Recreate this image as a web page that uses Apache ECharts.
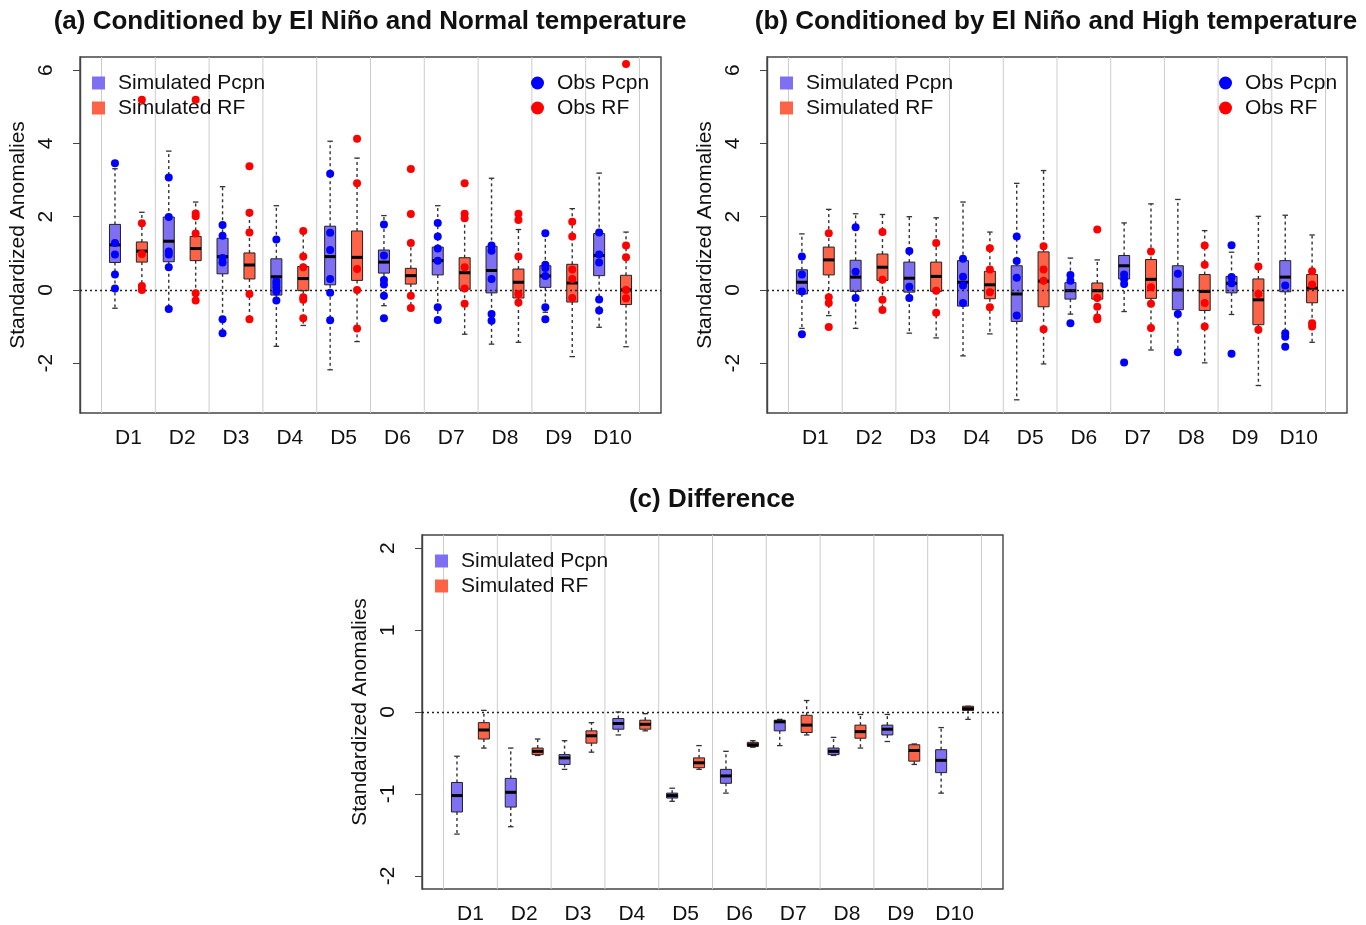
<!DOCTYPE html>
<html>
<head>
<meta charset="utf-8">
<title>Standardized Anomalies</title>
<script src="https://cdn.jsdelivr.net/npm/echarts@6/dist/echarts.min.js"></script>
<style>
  html, body { margin: 0; padding: 0; background: #fff; }
  #chart { width: 1366px; height: 925px; }
</style>
</head>
<body>
<div id="chart"></div>
<script>
// lead days
var days = ['D1', 'D2', 'D3', 'D4', 'D5', 'D6', 'D7', 'D8', 'D9', 'D10'];

// box stats per day: [lower whisker, Q1, median, Q3, upper whisker]
// (a) El Nino + normal temperature
var aPcpnStats = [
    [-0.50, 0.75, 1.23, 1.79, 3.31],
    [-0.52, 0.77, 1.33, 1.99, 3.79],
    [-1.15, 0.44, 0.91, 1.41, 2.82],
    [-1.54, -0.14, 0.36, 0.85, 2.30],
    [-2.18, 0.14, 0.91, 1.74, 4.06],
    [-0.43, 0.46, 0.76, 1.09, 2.03],
    [-0.82, 0.41, 0.80, 1.17, 2.30],
    [-1.48, -0.08, 0.53, 1.19, 3.05],
    [-0.61, 0.07, 0.38, 0.66, 1.55],
    [-1.02, 0.39, 0.94, 1.54, 3.19]
];
var aRfStats = [
    [0.00, 0.76, 1.06, 1.31, 2.12],
    [-0.29, 0.80, 1.13, 1.46, 2.40],
    [-0.80, 0.30, 0.68, 1.01, 2.11],
    [-0.97, -0.02, 0.31, 0.64, 1.61],
    [-1.41, 0.26, 0.89, 1.61, 3.60],
    [-0.49, 0.16, 0.39, 0.59, 1.28],
    [-1.21, 0.02, 0.47, 0.88, 2.08],
    [-1.43, -0.22, 0.21, 0.57, 1.65],
    [-1.82, -0.33, 0.19, 0.70, 2.22],
    [-1.55, -0.40, 0.00, 0.40, 1.58]
];
var aPcpnObs = [
    [3.46, 1.28, 0.97, 0.42, 0.04],
    [3.07, 1.99, 1.05, 0.97, 0.62, -0.52],
    [1.77, 1.48, 0.87, 0.75, -0.80, -1.18],
    [1.38, 0.24, 0.16, 0.07, -0.04, -0.29],
    [3.17, 1.56, 1.09, 0.30, -0.08, -0.83],
    [1.79, 0.94, 0.27, 0.15, -0.16, -0.77],
    [1.83, 1.46, 1.13, 0.80, -0.47, -0.82],
    [1.21, 1.07, 0.30, -0.66, -0.84],
    [1.55, 0.69, 0.60, 0.38, -0.47, -0.80],
    [1.57, 0.97, 0.75, -0.26, -0.56]
];
var aRfObs = [
    [5.19, 1.82, 0.98, 0.11, 0.00],
    [5.19, 2.09, 2.01, 1.54, -0.09, -0.29],
    [3.38, 2.11, 1.57, -0.11, -0.80],
    [1.61, 0.91, 0.62, -0.20, -0.27, -0.77],
    [4.13, 2.91, 0.57, 0.00, -1.05],
    [3.30, 2.07, 1.28, -0.16, -0.49],
    [2.91, 2.08, 1.96, 0.62, 0.04, -0.38],
    [2.08, 1.91, 0.91, -0.11, -0.34],
    [1.86, 1.46, 0.56, 0.30, -0.22],
    [6.17, 1.21, 0.89, 0.00, -0.23]
];

// (b) El Nino + high temperature
var bPcpnStats = [
    [-1.05, -0.11, 0.21, 0.55, 1.53],
    [-1.05, -0.04, 0.35, 0.81, 2.08],
    [-1.18, -0.06, 0.32, 0.76, 2.00],
    [-1.80, -0.44, 0.21, 0.80, 2.40],
    [-3.00, -0.86, -0.11, 0.66, 2.91],
    [-0.66, -0.25, -0.02, 0.20, 0.87],
    [-0.59, 0.30, 0.66, 0.94, 1.83],
    [-1.65, -0.54, 0.00, 0.66, 2.47],
    [-0.67, -0.08, 0.18, 0.37, 1.03],
    [-1.15, -0.05, 0.35, 0.80, 2.04]
];
var bRfStats = [
    [-0.70, 0.41, 0.82, 1.17, 2.20],
    [-0.55, 0.26, 0.62, 0.98, 2.06],
    [-1.31, -0.04, 0.37, 0.76, 1.97],
    [-1.20, -0.24, 0.14, 0.51, 1.58],
    [-2.02, -0.46, 0.24, 1.04, 3.26],
    [-0.84, -0.25, -0.02, 0.19, 0.82],
    [-1.64, -0.23, 0.29, 0.83, 2.35],
    [-1.99, -0.56, -0.04, 0.42, 1.62],
    [-2.61, -0.95, -0.27, 0.30, 2.01],
    [-1.43, -0.35, 0.05, 0.42, 1.50]
];
var bPcpnObs = [
    [0.91, 0.42, -0.04, -1.21],
    [1.71, 0.50, -0.22],
    [1.06, 0.09, -0.22],
    [0.85, 0.36, 0.12, -0.36],
    [1.46, 0.79, 0.33, -0.70],
    [0.41, 0.25, -0.91],
    [0.42, 0.30, 0.16, -1.98],
    [0.44, -0.66, -1.70],
    [1.22, 0.35, 0.18, -1.74],
    [0.12, -1.18, -1.28, -1.55]
];
var bRfObs = [
    [1.55, -0.20, -0.36, -1.01],
    [1.58, 0.28, -0.27, -0.55],
    [1.28, -0.02, -0.62],
    [1.14, 0.56, -0.06, -0.47],
    [1.19, 0.56, 0.25, -1.07],
    [1.65, -0.22, -0.46, -0.75, -0.80],
    [1.05, 0.07, -0.38, -1.04],
    [1.21, 0.69, -0.36, -1.00],
    [0.64, -0.11, -1.09],
    [0.51, 0.15, -0.91, -1.00]
];

// (c) difference
var cPcpnStats = [
    [-1.49, -1.22, -1.02, -0.86, -0.54],
    [-1.40, -1.16, -0.98, -0.81, -0.44],
    [-0.70, -0.64, -0.56, -0.52, -0.35],
    [-0.28, -0.21, -0.14, -0.08, 0.00],
    [-1.09, -1.05, -1.02, -0.99, -0.93],
    [-0.99, -0.87, -0.78, -0.70, -0.48],
    [-0.41, -0.23, -0.12, -0.10, -0.09],
    [-0.53, -0.52, -0.48, -0.44, -0.31],
    [-0.36, -0.28, -0.21, -0.16, -0.03],
    [-0.99, -0.74, -0.59, -0.46, -0.19]
];
var cRfStats = [
    [-0.44, -0.33, -0.22, -0.13, 0.02],
    [-0.53, -0.52, -0.48, -0.44, -0.33],
    [-0.49, -0.38, -0.29, -0.23, -0.13],
    [-0.23, -0.21, -0.15, -0.10, -0.02],
    [-0.70, -0.68, -0.62, -0.56, -0.41],
    [-0.43, -0.42, -0.40, -0.37, -0.35],
    [-0.28, -0.25, -0.16, -0.04, 0.14],
    [-0.44, -0.32, -0.24, -0.16, -0.03],
    [-0.64, -0.60, -0.47, -0.40, -0.39],
    [-0.09, 0.02, 0.04, 0.07, 0.07]
];

var abTicks = [-2, 0, 2, 4, 6];
var cTicks = [-2, -1, 0, 1, 2];

var FONT = '"Liberation Sans", Arial, Helvetica, sans-serif';
var PCPN_COLOR = '#7F6FF2';
var RF_COLOR = '#FF6347';
var OBS_PCPN_COLOR = '#0000FF';
var OBS_RF_COLOR = '#FF0000';
var BOX_W = 0.41;

// boxes sit at 1..20, pcpn on odd, rf on even
var separators = [];
for (var s = 0; s <= 10; s++) separators.push([2 * s + 0.5, 0]);
var labelPos = days.map(function (d, i) { return 2 * i + 1.5; });

function boxData(stats, offset) {
    return stats.map(function (st, i) {
        return [2 * i + offset].concat(st);
    });
}
function obsData(obs, offset) {
    var out = [];
    obs.forEach(function (vals, i) {
        vals.forEach(function (v) { out.push([2 * i + offset, v]); });
    });
    return out;
}

function renderBox(params, api) {
    var x = api.value(0);
    var lo = api.coord([x, api.value(1)]);
    var q1 = api.coord([x, api.value(2)]);
    var md = api.coord([x, api.value(3)]);
    var q3 = api.coord([x, api.value(4)]);
    var hi = api.coord([x, api.value(5)]);
    var w = api.size([BOX_W, 0])[0];
    var cx = lo[0];
    var dash = { stroke: '#333', lineWidth: 1.4, lineDash: [3, 3] };
    var solid = { stroke: '#333', lineWidth: 1.3 };
    return {
        type: 'group',
        children: [
            { type: 'line', shape: { x1: cx, y1: q3[1], x2: cx, y2: hi[1] }, style: dash },
            { type: 'line', shape: { x1: cx, y1: q1[1], x2: cx, y2: lo[1] }, style: dash },
            { type: 'line', shape: { x1: cx - w / 4, y1: hi[1], x2: cx + w / 4, y2: hi[1] }, style: solid },
            { type: 'line', shape: { x1: cx - w / 4, y1: lo[1], x2: cx + w / 4, y2: lo[1] }, style: solid },
            { type: 'rect', shape: { x: cx - w / 2, y: q3[1], width: w, height: q1[1] - q3[1] },
              style: { fill: api.visual('color'), stroke: '#222', lineWidth: 1 } },
            { type: 'line', shape: { x1: cx - w / 2, y1: md[1], x2: cx + w / 2, y2: md[1] },
              style: { stroke: '#000', lineWidth: 3 } }
        ]
    };
}

function renderSeparator(params, api) {
    var p = api.coord([api.value(0), 0]);
    var cs = params.coordSys;
    return {
        type: 'line',
        shape: { x1: p[0], y1: cs.y, x2: p[0], y2: cs.y + cs.height },
        style: { stroke: '#CCCCCC', lineWidth: 1 }
    };
}

var grids = [
    { left: 80, top: 57, width: 581, height: 356 },
    { left: 767, top: 57, width: 580, height: 356 },
    { left: 422, top: 535, width: 581, height: 358 }
];
grids.forEach(function (g) {
    g.show = true;
    g.borderColor = '#444';
    g.borderWidth = 1.4;
    g.backgroundColor = 'transparent';
});

function xAxisFor(idx) {
    return {
        type: 'value', gridIndex: idx, min: -0.3, max: 21.3,
        axisLine: { show: false }, axisTick: { show: false }, splitLine: { show: false },
        axisLabel: {
            customValues: labelPos,
            formatter: function (v) { return days[Math.round((v - 1.5) / 2)]; },
            fontSize: 21, color: '#111', fontFamily: FONT, margin: 15
        }
    };
}
function yAxisFor(idx, lo, hi, ticks) {
    return {
        type: 'value', gridIndex: idx, min: lo, max: hi,
        name: 'Standardized Anomalies', nameLocation: 'middle', nameGap: 51,
        nameTextStyle: { fontSize: 21, color: '#111', fontFamily: FONT },
        axisLine: { show: true, onZero: false, lineStyle: { color: '#444', width: 1.4 } },
        axisTick: { show: true, length: 7, customValues: ticks, lineStyle: { color: '#444' } },
        splitLine: { show: false },
        axisLabel: {
            customValues: ticks, rotate: 90, margin: 23,
            fontSize: 21, color: '#111', fontFamily: FONT
        }
    };
}

var series = [];
function addPanel(idx, pcpnStats, rfStats, pcpnObs, rfObs) {
    series.push({
        type: 'custom', name: 'sep', xAxisIndex: idx, yAxisIndex: idx,
        renderItem: renderSeparator, data: separators, silent: true, z: 1,
        encode: { x: 0, y: 1 },
        markLine: {
            silent: true, symbol: 'none', label: { show: false },
            lineStyle: { type: [2, 3], color: '#222', width: 1.4 },
            data: [{ yAxis: 0 }]
        }
    });
    series.push({
        type: 'custom', name: 'Simulated Pcpn', xAxisIndex: idx, yAxisIndex: idx,
        renderItem: renderBox, data: boxData(pcpnStats, 1), z: 3,
        itemStyle: { color: PCPN_COLOR }, encode: { x: 0, y: [1, 2, 3, 4, 5] }
    });
    series.push({
        type: 'custom', name: 'Simulated RF', xAxisIndex: idx, yAxisIndex: idx,
        renderItem: renderBox, data: boxData(rfStats, 2), z: 3,
        itemStyle: { color: RF_COLOR }, encode: { x: 0, y: [1, 2, 3, 4, 5] }
    });
    if (pcpnObs) {
        series.push({
            type: 'scatter', name: 'Obs Pcpn', xAxisIndex: idx, yAxisIndex: idx,
            data: obsData(pcpnObs, 1), symbolSize: 8, z: 5,
            itemStyle: { color: OBS_PCPN_COLOR, opacity: 1 }
        });
        series.push({
            type: 'scatter', name: 'Obs RF', xAxisIndex: idx, yAxisIndex: idx,
            data: obsData(rfObs, 2), symbolSize: 8, z: 5,
            itemStyle: { color: OBS_RF_COLOR, opacity: 1 }
        });
    }
}
addPanel(0, aPcpnStats, aRfStats, aPcpnObs, aRfObs);
addPanel(1, bPcpnStats, bRfStats, bPcpnObs, bRfObs);
addPanel(2, cPcpnStats, cRfStats, null, null);

function legendAt(names, icon, left, top) {
    return {
        data: names, orient: 'vertical', left: left, top: top, icon: icon, padding: 0,
        itemWidth: 13, itemHeight: 13, itemGap: 3, selectedMode: false,
        textStyle: { fontSize: 21, lineHeight: 22, color: '#111', fontFamily: FONT, padding: [0, 0, 0, 8] }
    };
}

var titleStyle = { fontSize: 26, fontWeight: 'bold', fill: '#111', fontFamily: FONT, align: 'center', verticalAlign: 'middle' };
function titleAt(text, x, y) {
    return { type: 'text', x: x, y: y, silent: true, style: Object.assign({ text: text }, titleStyle) };
}

var chart = echarts.init(document.getElementById('chart'), null, { renderer: 'canvas' });
chart.setOption({
    animation: false,
    backgroundColor: '#fff',
    grid: grids,
    xAxis: [xAxisFor(0), xAxisFor(1), xAxisFor(2)],
    yAxis: [yAxisFor(0, -3.36, 6.36, abTicks), yAxisFor(1, -3.36, 6.36, abTicks), yAxisFor(2, -2.16, 2.16, cTicks)],
    legend: [
        legendAt(['Simulated Pcpn', 'Simulated RF'], 'rect', 92, 72),
        legendAt(['Obs Pcpn', 'Obs RF'], 'circle', 531, 72),
        legendAt(['Simulated Pcpn', 'Simulated RF'], 'rect', 780, 72),
        legendAt(['Obs Pcpn', 'Obs RF'], 'circle', 1219, 72),
        legendAt(['Simulated Pcpn', 'Simulated RF'], 'rect', 435, 550)
    ],
    graphic: [
        titleAt('(a) Conditioned by El Niño and Normal temperature', 370, 22),
        titleAt('(b) Conditioned by El Niño and High temperature', 1056, 22),
        titleAt('(c) Difference', 712, 500)
    ],
    series: series
});
</script>
</body>
</html>
